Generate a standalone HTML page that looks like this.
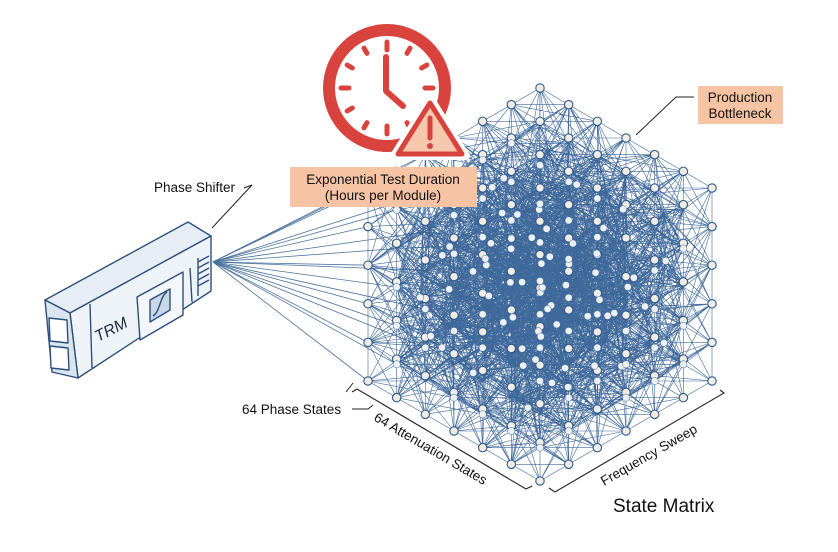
<!DOCTYPE html>
<html><head><meta charset="utf-8"><style>
html,body{margin:0;padding:0;background:#fff;}
svg{display:block;font-family:"Liberation Sans",sans-serif;}
</style></head><body>
<svg id="s" width="838" height="552" viewBox="0 0 838 552" xmlns="http://www.w3.org/2000/svg">
<rect width="838" height="552" fill="#fff"/>
<g id="fan" stroke="#2d5a8c" stroke-width="0.8" opacity="0.85"></g>
<g id="edges" stroke="#1f4f8a" stroke-width="0.6" fill="none"></g>
<g id="nodes"></g>

<!-- TRM module -->
<g stroke="#2d4f7c" stroke-width="1.4" stroke-linejoin="round">
<polygon points="45,300 188,222 211,236 70,313" fill="#e6edf5"/>
<polygon points="70,313 211,236 211,291 78,378" fill="#eef3f8"/>
<polygon points="45,300 70,313 78,378 52,372" fill="#dbe5ef"/>
<polygon points="49,318 67,320 68,343 50,341" fill="#fff"/>
<polygon points="50,346 68,348 69,370 51,368" fill="#fff"/>
<line x1="90" y1="304" x2="92" y2="368"/>
<polygon points="137,297 183,272 183,315 140,340" fill="#f4f7fa"/>
<polygon points="150,300 170,289 170,310 150,322" fill="#c9d7e6"/>
<path d="M153,316 C160,312 160,296 167,292" fill="none"/>
<line x1="190" y1="268" x2="192" y2="302"/>
<line x1="198" y1="258" x2="198" y2="296"/>
<line x1="198" y1="262" x2="209" y2="256"/><line x1="198" y1="268" x2="209" y2="262"/>
<line x1="198" y1="274" x2="209" y2="268"/><line x1="198" y1="280" x2="209" y2="274"/>
<line x1="198" y1="286" x2="209" y2="280"/>
</g>
<text x="98" y="342" font-size="16" font-style="italic" fill="#1d2b3c" transform="rotate(-27 98 342)">TRM</text>
<text x="154" y="192" font-size="13.5" fill="#111">Phase Shifter</text>
<polyline points="244,188 252,185 212,228" fill="none" stroke="#222" stroke-width="1"/>

<!-- clock -->
<circle cx="387" cy="88" r="58" fill="#fff" stroke="#d9433d" stroke-width="12"/>
<g stroke="#d9433d" stroke-width="5" stroke-linecap="round" id="ticks"></g>
<polyline points="386,57 386,91 403,106" fill="none" stroke="#d9433d" stroke-width="6" stroke-linecap="round" stroke-linejoin="round"/>
<polygon points="430,98 466,156 394,156" fill="#f6c8ae" stroke="#fff" stroke-width="8" stroke-linejoin="round"/>
<polygon points="430,103 462,154 398,154" fill="#f6c8ae" stroke="#d9433d" stroke-width="5" stroke-linejoin="round"/>
<line x1="430" y1="118" x2="430" y2="138" stroke="#d9433d" stroke-width="5" stroke-linecap="round"/>
<circle cx="430" cy="146" r="3" fill="#d9433d"/>

<rect x="290" y="167" width="187" height="40" fill="#f6c4a4"/>
<text x="383" y="184" font-size="13.5" fill="#111" text-anchor="middle">Exponential Test Duration</text>
<text x="383" y="200" font-size="13.5" fill="#111" text-anchor="middle">(Hours per Module)</text>

<rect x="698" y="86" width="85" height="38" fill="#f6c4a4"/>
<text x="740" y="102" font-size="13.5" fill="#111" text-anchor="middle">Production</text>
<text x="740" y="118" font-size="13.5" fill="#111" text-anchor="middle">Bottleneck</text>
<polyline points="636,135 676,97 694,97" fill="none" stroke="#222" stroke-width="1"/>

<!-- brackets -->
<polyline points="352,392 357,389 526,489 532,486" fill="none" stroke="#222" stroke-width="1.1"/>
<polyline points="549,488 555,492 724,393 720,390" fill="none" stroke="#222" stroke-width="1.1"/>
<line x1="346" y1="392" x2="353" y2="383" stroke="#222" stroke-width="1"/>
<text x="242" y="414" font-size="13.5" fill="#111">64 Phase States</text>
<polyline points="352,409 368,409 373,405" fill="none" stroke="#222" stroke-width="1"/>
<text x="373" y="420" font-size="13.5" fill="#111" transform="rotate(30.5 373 420)">64 Attenuation States</text>
<text x="604" y="486" font-size="13.5" fill="#111" transform="rotate(-30 604 486)">Frequency Sweep</text>
<text x="613" y="512" font-size="19" fill="#111">State Matrix</text>
</svg>
<script>
(function(){
var NS="http://www.w3.org/2000/svg";
function el(t,a,p){var e=document.createElementNS(NS,t);for(var k in a)e.setAttribute(k,a[k]);p.appendChild(e);return e;}
var ticks=document.getElementById('ticks');
for(var i=0;i<12;i++){var a=i*Math.PI/6;var r1=40,r2=46;if(i%3==0){r1=38;r2=46;}
el('line',{x1:387+r1*Math.sin(a),y1:88-r1*Math.cos(a),x2:387+r2*Math.sin(a),y2:88-r2*Math.cos(a)},ticks);}
var seed=11;function rnd(){seed=(seed*16807)%2147483647;return seed/2147483647;}
function P(i,j,k){return [540-i*172/6+j*172/6, 481-i*100/6-j*100/6-k*193/5];}
var N=[];
for(var i=0;i<7;i++)for(var j=0;j<7;j++)for(var k=0;k<6;k++){
 var surf=(i==0||j==0||k==5);
 var p=P(i,j,k);
 var inner=!(i==0||j==0||i==6||j==6||k==0||k==5);
 if(inner){p[0]+=(rnd()-0.5)*24;p[1]+=(rnd()-0.5)*24;}
 N.push({i:i,j:j,k:k,p:p,surf:surf,inner:inner});
}
var eg=document.getElementById('edges');
var d="";
for(var a=0;a<N.length;a++){var A=N[a];
 for(var b=a+1;b<N.length;b++){var B=N[b];
  var di=Math.abs(A.i-B.i),dj=Math.abs(A.j-B.j),dk=Math.abs(A.k-B.k);
  var m=Math.max(di,dj,dk);
  if(m==0)continue;
  var pr=m==1?0.7:(m==2?0.3:0);
  if((A.surf&&B.surf)&&m==1&&(di+dj+dk)==1)pr=1;
  if(rnd()>=pr)continue;
  d+="M"+A.p[0].toFixed(1)+","+A.p[1].toFixed(1)+"L"+B.p[0].toFixed(1)+","+B.p[1].toFixed(1);
 }}
el('path',{d:d,opacity:0.85},eg);
var fan=document.getElementById('fan');
for(var k=0;k<6;k++){for(var j=0;j<3;j++){var p=P(6,j,k);el('line',{x1:213,y1:262,x2:p[0],y2:p[1]},fan);}}
var ng=document.getElementById('nodes');
for(var a=0;a<N.length;a++){var A=N[a];
 if(A.surf) el('circle',{cx:A.p[0],cy:A.p[1],r:4.2,fill:'#f1ece4',stroke:'#2d5a8c','stroke-width':1.1},ng);
 else if(rnd()<0.55) el('circle',{cx:A.p[0],cy:A.p[1],r:3.6,fill:'#eef1f4',stroke:'#3a6898','stroke-width':0.5},ng);
}
})();
</script>
</body></html>
